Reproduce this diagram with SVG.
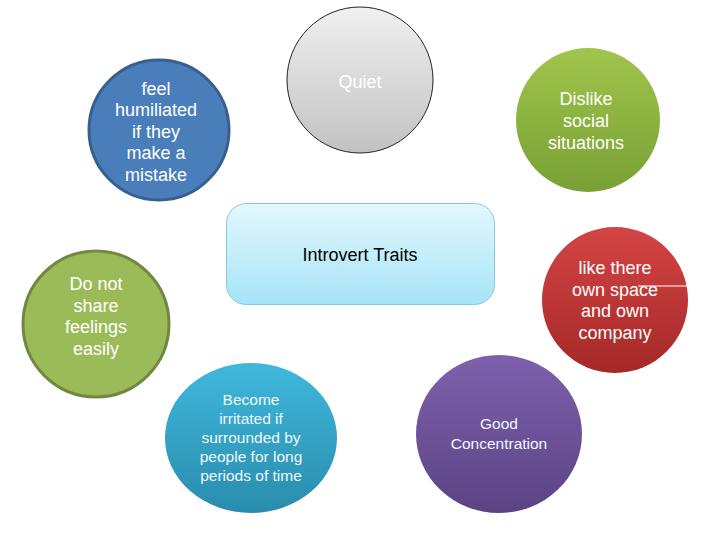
<svg xmlns="http://www.w3.org/2000/svg" width="720" height="540" viewBox="0 0 720 540">
<defs>
<linearGradient id="gGray" x1="0" y1="0" x2="0" y2="1"><stop offset="0" stop-color="#f0f0f0"/><stop offset="1" stop-color="#c2c2c2"/></linearGradient>
<linearGradient id="gGreen" x1="0" y1="0" x2="0" y2="1"><stop offset="0" stop-color="#a0c54c"/><stop offset="1" stop-color="#78a034"/></linearGradient>
<linearGradient id="gRed" x1="0" y1="0" x2="0" y2="1"><stop offset="0" stop-color="#d44444"/><stop offset="1" stop-color="#a52828"/></linearGradient>
<linearGradient id="gTeal" x1="0" y1="0" x2="0" y2="1"><stop offset="0" stop-color="#3fb8dc"/><stop offset="1" stop-color="#2a8cad"/></linearGradient>
<linearGradient id="gPurple" x1="0" y1="0" x2="0" y2="1"><stop offset="0" stop-color="#7e60ac"/><stop offset="1" stop-color="#5b4384"/></linearGradient>
<linearGradient id="gCenter" x1="0" y1="0" x2="0" y2="1"><stop offset="0" stop-color="#e3f8fe"/><stop offset="1" stop-color="#a6e4f7"/></linearGradient>
</defs>
<style>
text{font-family:"Liberation Sans",Arial,sans-serif;text-anchor:middle}
.w{fill:#ffffff;font-size:18px}
.t{fill:#eef8fb;font-size:15.5px}
</style>
<rect width="720" height="540" fill="#ffffff"/>
<g id="connectors"></g>
<g id="center">
<rect x="226.5" y="203.5" width="268" height="101" rx="20" fill="url(#gCenter)" stroke="#86c9de" stroke-width="1"/>
<text x="360" y="261" style="font-size:18px;fill:#000">Introvert Traits</text>
</g>
<g id="humiliated">
<circle cx="159" cy="130" r="70" fill="#4a7ebb" stroke="#37608f" stroke-width="3"/>
<text class="w" x="156" y="95">feel</text>
<text class="w" x="156" y="116">humiliated</text>
<text class="w" x="156" y="138">if they</text>
<text class="w" x="156" y="159">make a</text>
<text class="w" x="156" y="181">mistake</text>
</g>
<g id="quiet">
<circle cx="360" cy="80" r="73" fill="url(#gGray)" stroke="#222" stroke-width="1"/>
<text class="w" x="360" y="88">Quiet</text>
</g>
<g id="dislike">
<circle cx="588" cy="120" r="72" fill="url(#gGreen)"/>
<text class="w" x="586" y="105">Dislike</text>
<text class="w" x="586" y="127">social</text>
<text class="w" x="586" y="149">situations</text>
</g>
<g id="ownspace">
<circle cx="615" cy="300" r="73" fill="url(#gRed)"/>
<text class="w" x="615" y="274">like there</text>
<text class="w" x="615" y="296">own space</text>
<text class="w" x="615" y="317">and own</text>
<text class="w" x="615" y="339">company</text>
<line x1="638" y1="286" x2="689" y2="286" stroke="#ffffff" stroke-width="1"/>
</g>
<g id="share">
<circle cx="96" cy="324" r="73" fill="#9bbb59" stroke="#71893f" stroke-width="3"/>
<text class="w" x="96" y="290">Do not</text>
<text class="w" x="96" y="312">share</text>
<text class="w" x="96" y="333">feelings</text>
<text class="w" x="96" y="355">easily</text>
</g>
<g id="irritated">
<ellipse cx="251" cy="438" rx="86" ry="75" fill="url(#gTeal)"/>
<text class="t" x="251" y="405">Become</text>
<text class="t" x="251" y="424">irritated if</text>
<text class="t" x="251" y="443">surrounded by</text>
<text class="t" x="251" y="462">people for long</text>
<text class="t" x="251" y="481">periods of time</text>
</g>
<g id="concentration">
<ellipse cx="499" cy="434" rx="83" ry="79" fill="url(#gPurple)"/>
<text class="t" x="499" y="429">Good</text>
<text class="t" x="499" y="449">Concentration</text>
</g>
</svg>
